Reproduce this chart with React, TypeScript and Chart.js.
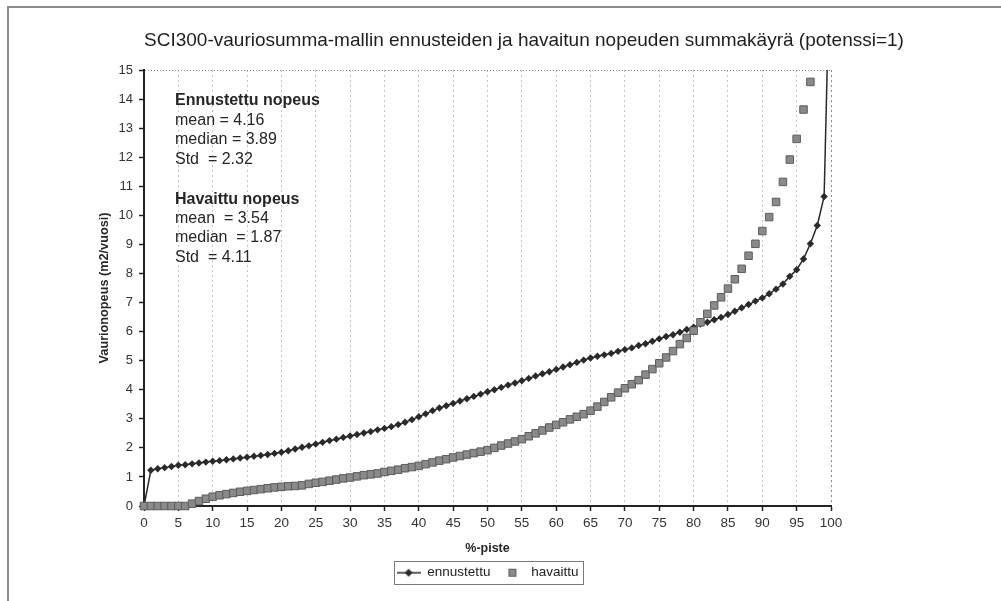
import React, { useEffect, useRef } from "react";
import { Chart, registerables } from "chart.js";

Chart.register(...registerables);

// Percentile curves (x = %-piste 0..100, one value per percentile)
const ennustettu: (number | null)[] = [
  0, 1.23, 1.28, 1.32, 1.36, 1.4, 1.42, 1.45, 1.48, 1.51,
  1.54, 1.56, 1.59, 1.62, 1.65, 1.68, 1.71, 1.74, 1.77, 1.81,
  1.85, 1.9, 1.96, 2.02, 2.07, 2.13, 2.19, 2.25, 2.3, 2.36,
  2.41, 2.46, 2.51, 2.56, 2.62, 2.67, 2.73, 2.8, 2.88, 2.97,
  3.07, 3.17, 3.28, 3.37, 3.45, 3.53, 3.61, 3.69, 3.77, 3.85,
  3.93, 4.0, 4.08, 4.16, 4.23, 4.31, 4.39, 4.47, 4.55, 4.62,
  4.7, 4.78, 4.86, 4.94, 5.02, 5.09, 5.15, 5.2, 5.25, 5.32,
  5.38, 5.44, 5.52, 5.58, 5.67, 5.75, 5.83, 5.89, 5.98, 6.07,
  6.15, 6.26, 6.32, 6.41, 6.49, 6.59, 6.7, 6.82, 6.93, 7.05,
  7.16, 7.3, 7.46, 7.64, 7.9, 8.13, 8.5, 9.02, 9.65, 10.65,
  20.5,
];

const havaittu: (number | null)[] = [
  0, 0, 0, 0, 0, 0, 0, 0.08, 0.17, 0.25,
  0.32, 0.37, 0.41, 0.45, 0.49, 0.52, 0.55, 0.58, 0.61, 0.64,
  0.66, 0.68, 0.69, 0.71, 0.76, 0.8, 0.83, 0.87, 0.91, 0.95,
  0.98, 1.02, 1.06, 1.09, 1.12, 1.17, 1.21, 1.25, 1.3, 1.34,
  1.38, 1.44, 1.5, 1.56, 1.61, 1.67, 1.72, 1.77, 1.82, 1.87,
  1.92, 2.0, 2.08, 2.15, 2.22, 2.3, 2.4, 2.5, 2.6, 2.7,
  2.79, 2.88, 2.98, 3.07, 3.16, 3.28, 3.42, 3.58, 3.74, 3.9,
  4.05, 4.19, 4.33, 4.52, 4.71, 4.91, 5.11, 5.33, 5.57, 5.78,
  6.03, 6.32, 6.61, 6.9, 7.18, 7.48, 7.8, 8.16, 8.61, 9.02,
  9.46, 9.94, 10.46, 11.15, 11.92, 12.63, 13.64, 14.59, null, null,
  null,
];

const seriesNames = ["ennustettu", "havaittu"];

const titleText =
  "SCI300-vauriosumma-mallin ennusteiden ja havaitun nopeuden summakäyrä (potenssi=1)";
const xTitle = "%-piste";
const yTitle = "Vaurionopeus (m2/vuosi)";

// Summary statistics box inside the plot
const statsLines: { text: string; bold: boolean; gapBefore: boolean }[] = [
  { text: "Ennustettu nopeus", bold: true, gapBefore: false },
  { text: "mean = 4.16", bold: false, gapBefore: false },
  { text: "median = 3.89", bold: false, gapBefore: false },
  { text: "Std  = 2.32", bold: false, gapBefore: false },
  { text: "Havaittu nopeus", bold: true, gapBefore: true },
  { text: "mean  = 3.54", bold: false, gapBefore: false },
  { text: "median  = 1.87", bold: false, gapBefore: false },
  { text: "Std  = 4.11", bold: false, gapBefore: false },
];

const FONT = '"Liberation Sans", Arial, Helvetica, sans-serif';
const DARK = "#2a2a2a";
const SQ_FILL = "#8a8a8a";
const SQ_EDGE = "#5c5c5c";

function makeLineIcon(): HTMLCanvasElement {
  const c = document.createElement("canvas");
  c.width = 24;
  c.height = 10;
  const g = c.getContext("2d")!;
  g.strokeStyle = DARK;
  g.lineWidth = 1.5;
  g.beginPath();
  g.moveTo(0, 5);
  g.lineTo(24, 5);
  g.stroke();
  g.fillStyle = DARK;
  g.beginPath();
  g.moveTo(12, 1);
  g.lineTo(16, 5);
  g.lineTo(12, 9);
  g.lineTo(8, 5);
  g.closePath();
  g.fill();
  return c;
}

function makeSquareIcon(): HTMLCanvasElement {
  const c = document.createElement("canvas");
  c.width = 10;
  c.height = 10;
  const g = c.getContext("2d")!;
  g.fillStyle = SQ_FILL;
  g.fillRect(1.5, 1.5, 7, 7);
  g.strokeStyle = SQ_EDGE;
  g.lineWidth = 1;
  g.strokeRect(1.5, 1.5, 7, 7);
  return c;
}

const decorPlugin = {
  id: "decor",
  beforeDraw(chart: any) {
    const { ctx, width, height } = chart;
    ctx.save();
    ctx.fillStyle = "#ffffff";
    ctx.fillRect(0, 0, width, height);
    // outer frame
    ctx.strokeStyle = "#8c8c8c";
    ctx.lineWidth = 2;
    ctx.beginPath();
    ctx.moveTo(8, height);
    ctx.lineTo(8, 7);
    ctx.lineTo(width, 7);
    ctx.stroke();
    ctx.restore();
  },
  afterDraw(chart: any) {
    const { ctx, chartArea } = chart;
    ctx.save();
    // title
    ctx.fillStyle = "#1e1e1e";
    ctx.font = `19px ${FONT}`;
    ctx.textAlign = "center";
    ctx.textBaseline = "middle";
    ctx.fillText(titleText, 524, 41);

    // statistics text
    ctx.textAlign = "left";
    ctx.fillStyle = "#262626";
    let y = chartArea.top + 31;
    statsLines.forEach((ln, i) => {
      if (i > 0) y += ln.gapBefore ? 40 : 19.4;
      ctx.font = `${ln.bold ? "bold " : ""}16px ${FONT}`;
      ctx.fillText(ln.text, chartArea.left + 31, y);
    });

    // legend frame
    const lg = chart.legend;
    if (lg && lg.legendHitBoxes && lg.legendHitBoxes.length) {
      const hb = lg.legendHitBoxes;
      const l = Math.min(...hb.map((h: any) => h.left)) - 3;
      const r = Math.max(...hb.map((h: any) => h.left + h.width)) + 4;
      const t = Math.min(...hb.map((h: any) => h.top)) - 5;
      const b = Math.max(...hb.map((h: any) => h.top + h.height)) + 4;
      ctx.strokeStyle = "#7a7a7a";
      ctx.lineWidth = 1;
      ctx.strokeRect(Math.round(l) + 0.5, Math.round(t) + 0.5, Math.round(r - l), Math.round(b - t));
    }
    ctx.restore();
  },
};

export default function App() {
  const ref = useRef<HTMLCanvasElement>(null);

  useEffect(() => {
    const canvas = ref.current;
    if (!canvas) return;
    const lineIcon = makeLineIcon();
    const squareIcon = makeSquareIcon();

    const chart = new Chart(canvas, {
      type: "scatter",
      data: {
        datasets: [
          {
            label: seriesNames[0],
            data: ennustettu.map((v, i) => ({ x: i, y: v })) as any,
            showLine: true,
            borderColor: DARK,
            borderWidth: 1.5,
            backgroundColor: DARK,
            pointStyle: "rectRot",
            pointRadius: 3.7,
            pointBorderWidth: 0,
            pointBackgroundColor: DARK,
            tension: 0,
            order: 1,
            clip: { left: 8, top: 0, right: 8, bottom: 8 } as any,
          },
          {
            label: seriesNames[1],
            data: havaittu.map((v, i) => ({ x: i, y: v })) as any,
            showLine: false,
            pointStyle: "rect",
            pointRadius: 5.3,
            pointBackgroundColor: SQ_FILL,
            pointBorderColor: SQ_EDGE,
            pointBorderWidth: 1,
            backgroundColor: SQ_FILL,
            borderColor: SQ_EDGE,
            order: 0,
            clip: { left: 8, top: 0, right: 8, bottom: 8 } as any,
          },
        ],
      },
      options: {
        responsive: false,
        animation: false,
        devicePixelRatio: 1,
        layout: { padding: { left: 96.5, right: 170, top: 70, bottom: 11.5 } },
        scales: {
          x: {
            type: "linear",
            min: 0,
            max: 100,
            afterFit: (s: any) => {
              s.height = 50;
            },
            ticks: {
              stepSize: 5,
              color: "#333",
              padding: 4,
              font: { family: FONT, size: 13.5 },
            },
            grid: {
              color: (c: any) => (c.tick && c.tick.value === 100 ? "#8a8a8a" : "#c4c4c4"),
              lineWidth: 1,
              drawTicks: true,
              tickLength: 5,
              tickColor: "#222",
              tickWidth: 1.5,
              tickBorderDash: [],
            } as any,
            border: { display: true, color: "#222", width: 2, dash: [2, 3] },
            title: {
              display: true,
              text: xTitle,
              color: "#262626",
              padding: 0,
              font: { family: FONT, size: 12.5, weight: "bold" },
            },
          },
          y: {
            type: "linear",
            min: 0,
            max: 15,
            afterFit: (s: any) => {
              s.width = 47.5;
            },
            ticks: {
              stepSize: 1,
              color: "#333",
              padding: 6,
              font: { family: FONT, size: 13 },
            },
            grid: {
              color: (c: any) => (c.tick && c.tick.value === 15 ? "#8a8a8a" : "rgba(0,0,0,0)"),
              lineWidth: 1,
              drawTicks: true,
              tickLength: 5,
              tickColor: "#222",
              tickWidth: 1.5,
              tickBorderDash: [],
            } as any,
            border: { display: true, color: "#222", width: 2, dash: [1, 2] },
            title: {
              display: true,
              text: yTitle,
              color: "#262626",
              padding: 0,
              font: { family: FONT, size: 12.7, weight: "bold" },
            },
          },
        },
        plugins: {
          title: { display: false },
          tooltip: { enabled: false },
          legend: {
            display: true,
            position: "bottom",
            fullSize: false,
            labels: {
              usePointStyle: true,
              pointStyleWidth: 24,
              padding: 10,
              color: "#222",
              font: { family: FONT, size: 13.5 },
              sort: (a: any, b: any) => a.datasetIndex - b.datasetIndex,
              generateLabels: (ch: any) => {
                const items = (Chart.defaults.plugins.legend.labels as any).generateLabels(ch);
                items.forEach((it: any) => {
                  it.pointStyle = it.datasetIndex === 0 ? lineIcon : squareIcon;
                });
                return items;
              },
            },
          } as any,
        },
      },
      plugins: [decorPlugin],
    });

    return () => chart.destroy();
  }, []);

  return (
    <div
      style={{
        position: "fixed",
        left: 0,
        top: 0,
        width: 1001,
        height: 601,
        background: "#fff",
        overflow: "hidden",
      }}
    >
      <canvas ref={ref} width={1001} height={601} style={{ display: "block", width: 1001, height: 601 }} />
    </div>
  );
}
